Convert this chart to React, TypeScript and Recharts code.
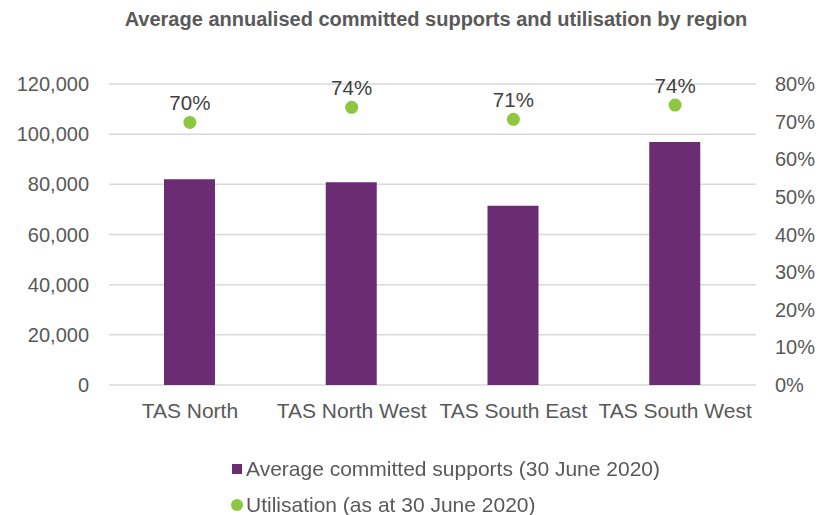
import {
  Bar,
  CartesianGrid,
  ComposedChart,
  LabelList,
  Legend,
  Line,
  XAxis,
  YAxis,
} from 'recharts';

const regions = ['TAS North', 'TAS North West', 'TAS South East', 'TAS South West'];
const committedSupports = [82000, 80800, 71500, 96900];
const utilisation = [69.8, 73.8, 70.6, 74.4];

const leftTicks = [0, 20000, 40000, 60000, 80000, 100000, 120000];
const rightTicks = [0, 10, 20, 30, 40, 50, 60, 70, 80];

const BAR_COLOR = '#6B2C74';
const DOT_COLOR = '#8DC63F';
const TEXT_COLOR = '#595959';
const FONT = '"Liberation Sans", Arial, sans-serif';

const data = regions.map((region, i) => ({
  region,
  supports: committedSupports[i],
  utilisation: utilisation[i],
}));

const renderLegend = () => (
  <div style={{ fontFamily: FONT, fontSize: 21, color: TEXT_COLOR, lineHeight: '36px' }}>
    <div style={{ display: 'flex', alignItems: 'center' }}>
      <span style={{ width: 10, height: 10, background: BAR_COLOR, marginRight: 4, display: 'inline-block' }} />
      Average committed supports (30 June 2020)
    </div>
    <div style={{ display: 'flex', alignItems: 'center' }}>
      <span
        style={{
          width: 12,
          height: 12,
          borderRadius: 6,
          background: DOT_COLOR,
          marginRight: 3,
          marginLeft: -1,
          display: 'inline-block',
        }}
      />
      Utilisation (as at 30 June 2020)
    </div>
  </div>
);

export default function App() {
  return (
    <div
      style={{
        position: 'fixed',
        left: 0,
        top: 0,
        width: 819,
        height: 515,
        background: '#fff',
        fontFamily: FONT,
      }}
    >
      <div
        style={{
          position: 'absolute',
          left: 0,
          width: 872,
          top: 8,
          textAlign: 'center',
          fontWeight: 'bold',
          fontSize: 20,
          color: TEXT_COLOR,
        }}
      >
        Average annualised committed supports and utilisation by region
      </div>
      <ComposedChart
        width={819}
        height={515}
        data={data}
        margin={{ top: 84, right: 0, bottom: 18, left: 0 }}
        barCategoryGap={0}
      >
        <CartesianGrid yAxisId="left" vertical={false} stroke="#D9D9D9" strokeWidth={1.5} />
        <XAxis
          dataKey="region"
          axisLine={false}
          tickLine={false}
          tickMargin={12}
          height={40}
          interval={0}
          tick={{ fill: TEXT_COLOR, fontSize: 21, fontFamily: FONT }}
        />
        <YAxis
          yAxisId="left"
          orientation="left"
          width={109}
          domain={[0, 120000]}
          ticks={leftTicks}
          axisLine={false}
          tickLine={false}
          tickMargin={14}
          tickFormatter={(v: number) => v.toLocaleString('en-US')}
          tick={{ fill: TEXT_COLOR, fontSize: 20, fontFamily: FONT }}
        />
        <YAxis
          yAxisId="right"
          orientation="right"
          width={63}
          domain={[0, 80]}
          ticks={rightTicks}
          axisLine={false}
          tickLine={false}
          tickMargin={13}
          tickFormatter={(v: number) => `${v}%`}
          tick={{ fill: TEXT_COLOR, fontSize: 20, fontFamily: FONT }}
        />
        <Legend
          content={renderLegend}
          wrapperStyle={{ position: 'absolute', left: 232, top: 451, width: 500, height: 72 }}
        />
        <Bar
          yAxisId="left"
          dataKey="supports"
          name="Average committed supports (30 June 2020)"
          fill={BAR_COLOR}
          barSize={51}
          isAnimationActive={false}
        />
        <Line
          yAxisId="right"
          dataKey="utilisation"
          name="Utilisation (as at 30 June 2020)"
          stroke="none"
          strokeWidth={0}
          dot={{ r: 6.5, fill: DOT_COLOR, stroke: 'none' }}
          activeDot={false}
          isAnimationActive={false}
        >
          <LabelList
            dataKey="utilisation"
            position="top"
            offset={12}
            formatter={(v: number) => `${Math.round(v)}%`}
            style={{ fill: '#404040', fontSize: 20.5, fontFamily: FONT }}
          />
        </Line>
      </ComposedChart>
    </div>
  );
}
